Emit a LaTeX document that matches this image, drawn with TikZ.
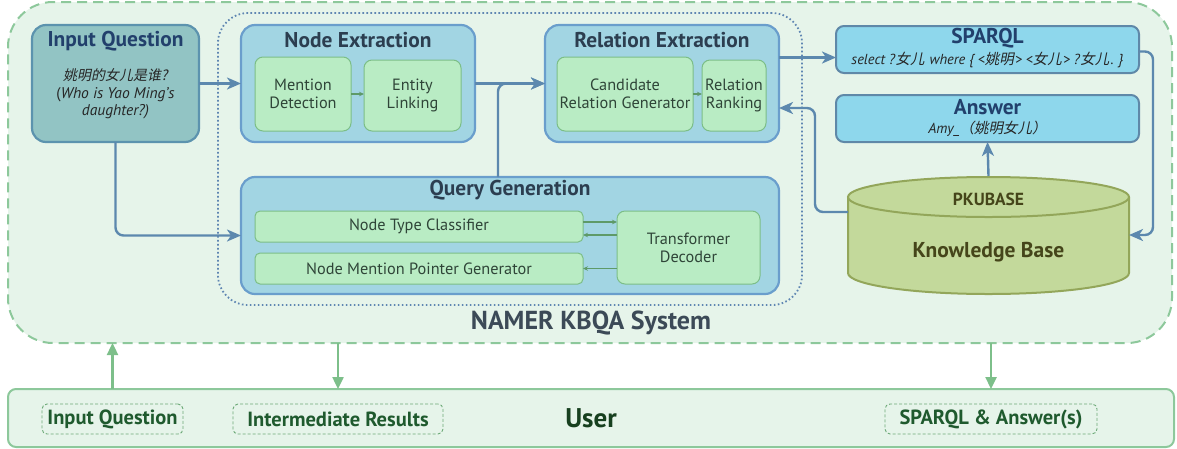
\documentclass[tikz,border=0pt]{standalone}
\usepackage{fontspec}
\setmainfont{PT Sans}
\newfontfamily\zhi{Noto Sans CJK SC}[FakeSlant=0.2]
\usetikzlibrary{arrows.meta}
\definecolor{sysfill}{HTML}{E6F4EA}
\definecolor{sysdash}{HTML}{8DC89B}
\definecolor{blueln}{HTML}{5C88AE}
\definecolor{dotblue}{HTML}{5F86B2}
\definecolor{modfill}{HTML}{A2D5E3}
\definecolor{moddraw}{HTML}{6A9ECC}
\definecolor{iqfill}{HTML}{92C4C4}
\definecolor{iqdraw}{HTML}{5C93AE}
\definecolor{subfill}{HTML}{B9ECC4}
\definecolor{subdraw}{HTML}{7CBE87}
\definecolor{subtext}{HTML}{2F4538}
\definecolor{modtitle}{HTML}{2C3E50}
\definecolor{navytitle}{HTML}{22406C}
\definecolor{outfill}{HTML}{8ED7EC}
\definecolor{outdraw}{HTML}{5F88A8}
\definecolor{kbfill}{HTML}{C3D99B}
\definecolor{kbdraw}{HTML}{93A65A}
\definecolor{kbtext}{HTML}{45451A}
\definecolor{usertext}{HTML}{1F5A2E}
\definecolor{userdark}{HTML}{17401F}
\definecolor{smalldashc}{HTML}{6DAA78}
\definecolor{garrowc}{HTML}{7DBF8A}
\definecolor{innerarrow}{HTML}{5E9A68}
\definecolor{namer}{HTML}{3C4A57}
\newcommand{\zhrun}[1]{{\zhi #1}\kern1.2pt}
\begin{document}
\begin{tikzpicture}[x=1pt,y=-1pt,
  every node/.style={inner sep=0pt, outer sep=0pt},
  sysbox/.style={fill=sysfill, draw=sysdash, line width=2pt, dash pattern=on 10pt off 6pt, rounded corners=45pt},
  dotbox/.style={draw=dotblue, line width=1.8pt, dash pattern=on 1.6pt off 2.4pt, rounded corners=30pt},
  iqbox/.style={fill=iqfill, draw=iqdraw, line width=2.2pt, rounded corners=14pt},
  modbox/.style={fill=modfill, draw=moddraw, line width=2.2pt, rounded corners=14pt},
  subbox/.style={fill=subfill, draw=subdraw, line width=1pt, rounded corners=8pt, align=center, text=subtext, font=\fontsize{16.3}{18}\selectfont},
  subbar/.style={fill=subfill, draw=subdraw, line width=1pt, rounded corners=5pt, text=subtext, font=\fontsize{16.3}{18}\selectfont},
  outbox/.style={fill=outfill, draw=outdraw, line width=2pt, rounded corners=8pt},
  titlefont/.style={font=\bfseries\fontsize{21.4}{23}\selectfont},
  bluearrow/.style={draw=blueln, line width=2.4pt, -{Stealth[length=14pt,width=12pt,inset=4pt]}},
  blueline/.style={draw=blueln, line width=2.4pt, rounded corners=8pt},
  innerarr/.style={draw=innerarrow, line width=1.2pt, -{Stealth[length=5pt,width=4.5pt]}},
  userarr/.style={draw=garrowc, line width=2.4pt, -{Triangle[length=12pt,width=11pt]}},
  smalldash/.style={draw=smalldashc, line width=0.9pt, dash pattern=on 3pt off 2pt, rounded corners=5pt},
  usersmall/.style={font=\bfseries\fontsize{20.5}{22}\selectfont, text=usertext},
]
\useasboundingbox (0,0) rectangle (1177,448);

% system and user containers
\node[sysbox, minimum width=1164, minimum height=341] (sys) at (590,172.5) {};
\node[dotbox, minimum width=584, minimum height=292] (dot) at (510,159) {};
\node[fill=sysfill, draw=sysdash, line width=2pt, rounded corners=8pt, minimum width=1166, minimum height=58] (user) at (591,418) {};

% input question
\node[iqbox, minimum width=167, minimum height=117] (iq) at (115.5,83.5) {};
\node[titlefont, text=navytitle] (iqt) at (115.5,41) {Input Question};
\node[align=center, font=\fontsize{15.5}{17.5}\selectfont, text=black!85] (iqx) at (115.5,94) {{\zhi\fontsize{14}{17.5}\selectfont 姚明的女儿是谁?}\\(\textit{Who is Yao Ming's}\\\textit{daughter?)}};

% node extraction
\node[modbox, minimum width=234, minimum height=117] (ne) at (358,83.5) {};
\node[titlefont, text=modtitle] (net) at (358,40) {Node Extraction};
\node[subbox, minimum width=96, minimum height=74] (md) at (303,94) {Mention\\Detection};
\node[subbox, minimum width=97, minimum height=71] (el) at (412.5,95.5) {Entity\\Linking};

% relation extraction
\node[modbox, minimum width=234, minimum height=117] (re) at (662,83.5) {};
\node[titlefont, text=modtitle] (ret) at (662,40) {Relation Extraction};
\node[subbox, minimum width=136, minimum height=74] (crg) at (625,94) {Candidate\\Relation Generator};
\node[subbox, minimum width=64, minimum height=71] (rr) at (734,95.5) {Relation\\Ranking};

% query generation
\node[modbox, minimum width=538, minimum height=117] (qg) at (510,235.5) {};
\node[titlefont, text=modtitle] (qgt) at (510,190) {Query Generation};
\node[subbar, minimum width=328, minimum height=31] (ntc) at (419,226.5) {Node Type Classifier};
\node[subbar, minimum width=328, minimum height=31] (nmp) at (419,268.5) {Node Mention Pointer Generator};
\node[subbox, minimum width=143, minimum height=73] (td) at (688.5,247.5) {Transformer\\Decoder};

% SPARQL and answer
\node[outbox, minimum width=303, minimum height=47] (sp) at (987.5,49.5) {};
\node[titlefont, text=navytitle] (spt) at (987.5,38) {SPARQL};
\node[font=\fontsize{14.5}{16}\selectfont, text=black!85] (spx) at (987.5,60) {\textit{select ?}\zhrun{女儿}\textit{ where \{ <}\zhrun{姚明}\textit{> <}\zhrun{女儿}\textit{> ?}\zhrun{女儿}\textit{. \}}};
\node[outbox, minimum width=303, minimum height=47] (ans) at (987.5,118.5) {};
\node[titlefont, text=navytitle] (anst) at (987.5,107) {Answer};
\node[font=\fontsize{14.5}{16}\selectfont, text=black!85] (ansx) at (987.5,129) {\textit{Amy\_}{\zhi （姚明女儿）}};

% knowledge base cylinder
\fill[kbfill] (848,197) -- (848,273) arc[start angle=180, end angle=0, x radius=140.5, y radius=21] -- (1129,197) -- cycle;
\draw[kbdraw, line width=2pt] (848,197) -- (848,273) arc[start angle=180, end angle=0, x radius=140.5, y radius=21] -- (1129,197);
\draw[kbdraw, fill=kbfill, line width=2pt] (988.5,197) ellipse[x radius=140.5, y radius=20];
\node[minimum width=281, minimum height=118] (kb) at (988.5,235) {};
\node[font=\bfseries\fontsize{17.5}{19}\selectfont, text=kbtext] (kbt) at (988.5,199) {PKUBASE};
\node[font=\bfseries\fontsize{21.5}{23}\selectfont, text=kbtext] (kbx) at (988.5,252) {Knowledge Base};

% system label
\node[font=\bfseries\fontsize{26}{28}\selectfont, text=namer] (nm) at (591,323) {NAMER KBQA System};

% user contents
\node[smalldash, minimum width=141, minimum height=30] (uq) at (112.5,419) {};
\node[usersmall] (uqt) at (112.5,419) {Input Question};
\node[smalldash, minimum width=210, minimum height=30] (ui) at (338,419) {};
\node[usersmall] (uit) at (338,419) {Intermediate Results};
\node[smalldash, minimum width=212, minimum height=30] (us) at (991,419) {};
\node[usersmall] (ust) at (991,419) {SPARQL \& Answer(s)};
\node[font=\bfseries\fontsize{27}{29}\selectfont, text=userdark] (ut) at (591,418) {User};

% blue connectors
\draw[bluearrow] (iq.east) -- (ne.west);
\draw[blueline, bluearrow] (iq.south) |- (qg.west);
\draw[bluearrow] (ne.east) -- (re.west);
\coordinate (qgup) at ([xshift=-12pt]qg.north);
\draw[blueline, bluearrow] (qgup) |- (re.west);
\coordinate (reout) at ([yshift=26pt]re.east);
\draw[bluearrow] (reout) -- (reout -| sp.west);
\coordinate (sr) at (1153,0);
\draw[blueline, bluearrow] ([yshift=-2pt]sp.east) -| (sr |- kb.east) -- (kb.east);
\coordinate (kl) at (815,0);
\coordinate (kbout) at ([yshift=23pt]kb.west);
\coordinate (rein) at ([yshift=-24.5pt]re.east);
\draw[blueline, bluearrow] (kbout) -| (kl |- rein) -- (rein);
\draw[bluearrow] (kb.north) -- (ans.south);

% green inner arrows
\draw[innerarr] (md.east) -- (md.east -| el.west);
\draw[innerarr] (crg.east) -- (crg.east -| rr.west);
\coordinate (a1) at ([yshift=4.5pt]ntc.east);
\coordinate (a2) at ([yshift=-8.5pt]ntc.east);
\draw[innerarr] (a1) -- (a1 -| td.west);
\draw[innerarr] (a2 -| td.west) -- (a2);
\draw[innerarr] (nmp.east -| td.west) -- (nmp.east);

% user arrows
\draw[userarr] (user.north -| uq.north) -- (sys.south -| uq.north);
\draw[userarr] (sys.south -| ui.north) -- (user.north -| ui.north);
\draw[userarr] (sys.south -| us.north) -- (user.north -| us.north);
\end{tikzpicture}
\end{document}
